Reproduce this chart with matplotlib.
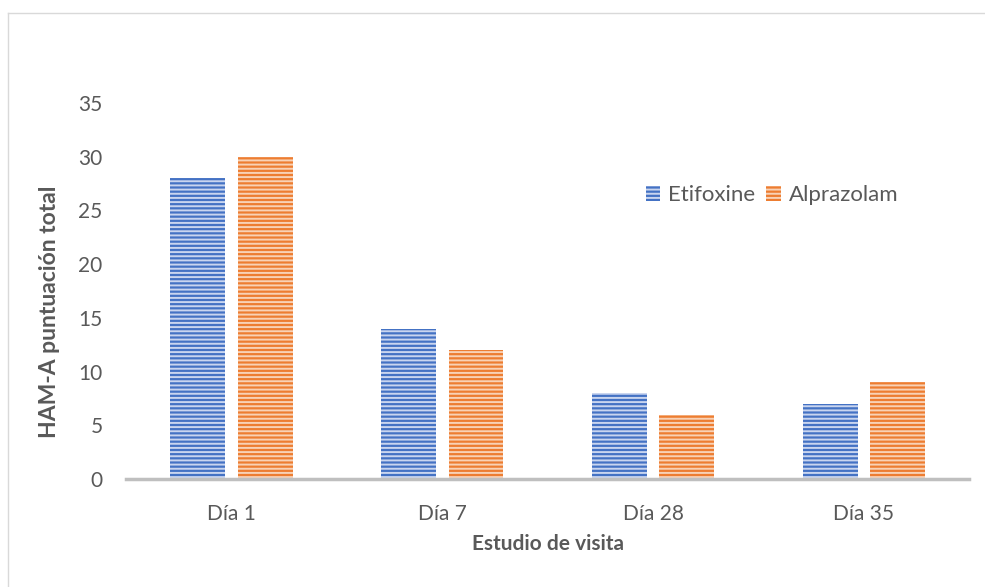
import matplotlib
import numpy as np

matplotlib.use("Agg")

import matplotlib.pyplot as plt
from matplotlib.lines import Line2D

DAYS = ["Día 1", "Día 7", "Día 28", "Día 35"]
ETIFOXINE = [28, 14, 8, 7]
ALPRAZOLAM = [30, 12, 6, 9]
SERIES = ["Etifoxine", "Alprazolam"]

plt.rcParams["font.family"] = ["Lato", "DejaVu Sans"]
plt.rcParams["hatch.linewidth"] = 1.4

TEXT = "#595959"

fig = plt.figure(figsize=(9.85, 5.87), dpi=100)
ax = fig.add_axes([0.128, 0.184, 0.856, 0.6405])

x = np.arange(len(DAYS))
w = 0.26
ax.bar(x - 0.16, ETIFOXINE, w, color="#4472C4", edgecolor="#c9d5ef",
       hatch="----", linewidth=0, label=SERIES[0])
ax.bar(x + 0.16, ALPRAZOLAM, w, color="#ED7D31", edgecolor="#f8d2b6",
       hatch="----", linewidth=0, label=SERIES[1])

ax.set_xlim(-0.5, len(DAYS) - 0.5)
ax.set_ylim(0, 35)
ax.set_yticks(range(0, 36, 5))
ax.set_xticks(x)
ax.set_xticklabels(DAYS)
ax.tick_params(axis="both", length=0, labelsize=15, labelcolor=TEXT)
ax.tick_params(axis="x", pad=18)
ax.tick_params(axis="y", pad=17)

for s in ["top", "right", "left"]:
    ax.spines[s].set_visible(False)
ax.spines["bottom"].set_color("#bfbfbf")
ax.spines["bottom"].set_linewidth(2.5)

ax.set_xlabel("Estudio de visita", fontsize=15, fontweight="bold",
              color=TEXT, labelpad=7)
ax.set_ylabel("HAM-A puntuación total", fontsize=16.5, fontweight="bold",
              color=TEXT)
ax.yaxis.set_label_coords(-0.078, 0.444)

leg = ax.legend(loc="center", bbox_to_anchor=(0.766, 0.755), ncol=2,
                frameon=False, fontsize=16, handlelength=0.65,
                handleheight=0.7, handletextpad=0.35, columnspacing=0.5)
for t in leg.get_texts():
    t.set_color(TEXT)

# outer chart border (only left and top visible in the crop)
fig.add_artist(Line2D([0.008, 0.008], [0.0, 0.978], transform=fig.transFigure,
                      color="#d9d9d9", lw=1))
fig.add_artist(Line2D([0.008, 1.0], [0.978, 0.978], transform=fig.transFigure,
                      color="#d9d9d9", lw=1))

fig.savefig("out.png", dpi=100)
